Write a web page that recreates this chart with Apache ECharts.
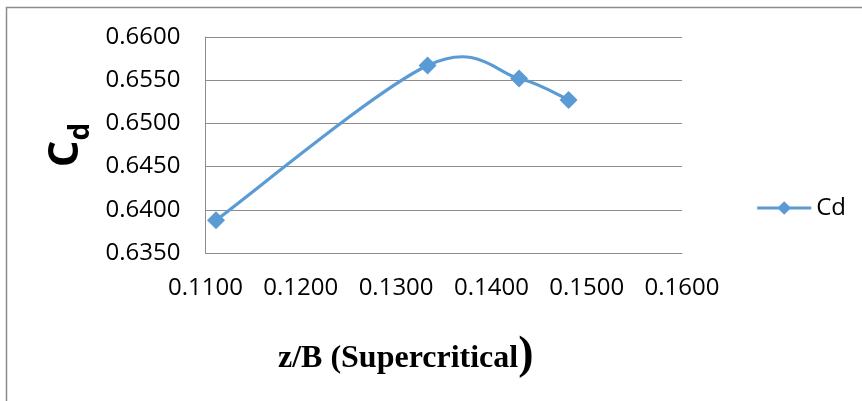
<!DOCTYPE html>
<html>
<head>
<meta charset="utf-8">
<script src="https://cdn.jsdelivr.net/npm/echarts@6/dist/echarts.min.js"></script>
<style>
  html, body { margin: 0; padding: 0; background: #fff; }
  #chart { width: 862px; height: 401px; }
</style>
</head>
<body>
<div id="chart"></div>
<script>
// z/B values and discharge coefficient
var zB = [0.1111, 0.1333, 0.1429, 0.1481];
var cd = [0.6388, 0.6567, 0.6552, 0.6527];
var xTicks = [0.11, 0.12, 0.13, 0.14, 0.15, 0.16];
var yTicks = [0.635, 0.64, 0.645, 0.65, 0.655, 0.66];

var chart = echarts.init(document.getElementById('chart'));

var points = zB.map(function (x, i) { return [x, cd[i]]; });
var blue = '#5b9bd5';

// spreadsheet-style smoothed curve: one bezier segment per point pair,
// control points taken from the neighbours, positions from the axes
function renderCurve(params, api) {
    var i = params.dataIndex;
    if (i >= points.length - 1) return null;
    var px = points.map(function (p) { return api.coord(p); });
    var p0 = px[Math.max(i - 1, 0)];
    var p1 = px[i];
    var p2 = px[i + 1];
    var p3 = px[Math.min(i + 2, px.length - 1)];
    return {
        type: 'bezierCurve',
        shape: {
            x1: p1[0], y1: p1[1],
            x2: p2[0], y2: p2[1],
            cpx1: p1[0] + (p2[0] - p0[0]) / 6,
            cpy1: p1[1] + (p2[1] - p0[1]) / 6,
            cpx2: p2[0] - (p3[0] - p1[0]) / 6,
            cpy2: p2[1] - (p3[1] - p1[1]) / 6
        },
        style: { stroke: blue, lineWidth: 3.2, fill: null, lineCap: 'round' }
    };
}

var option = {
    animation: false,
    backgroundColor: '#fff',
    graphic: [
        {
            type: 'polyline',
            silent: true,
            shape: { points: [[6.5, 410], [6.5, 7.5], [870, 7.5]] },
            style: { stroke: '#8c8c8c', lineWidth: 1.5, fill: null }
        }
    ],
    grid: {
        left: 205.5,
        right: 180,
        top: 37,
        bottom: 148
    },
    legend: {
        data: ['Cd'],
        right: 11,
        top: 191,
        orient: 'vertical',
        itemWidth: 54,
        itemHeight: 17,
        itemGap: 6,
        lineStyle: { opacity: 1, width: 3.2, color: blue },
        textStyle: { fontFamily: 'Open Sans', fontSize: 24, color: '#000' }
    },
    xAxis: {
        type: 'value',
        min: xTicks[0],
        max: xTicks[xTicks.length - 1],
        interval: 0.01,
        name: '{t|z/B (Supercritical}{p|)}',
        nameLocation: 'middle',
        nameGap: 80,
        nameTextStyle: {
            padding: [0, 76, 0, 0],
            rich: {
                t: { fontFamily: 'Liberation Serif', fontWeight: 'bold', fontSize: 32, color: '#000' },
                p: { fontFamily: 'Liberation Serif', fontWeight: 'bold', fontSize: 46, color: '#000', padding: [0, 0, 6, 0] }
            }
        },
        axisLine: { show: true, lineStyle: { color: '#8c8c8c', width: 1 } },
        axisTick: { show: false },
        splitLine: { show: false },
        axisLabel: {
            margin: 23,
            fontFamily: 'Open Sans',
            fontSize: 24,
            color: '#000',
            formatter: function (v) { return v.toFixed(4); }
        }
    },
    yAxis: {
        type: 'value',
        min: yTicks[0],
        max: yTicks[yTicks.length - 1],
        interval: 0.005,
        name: '{c|C}{d|d}',
        nameLocation: 'middle',
        nameGap: 107,
        nameRotate: 90,
        nameTextStyle: {
            rich: {
                c: { fontFamily: 'Open Sans', fontWeight: 'bold', fontSize: 42, color: '#000' },
                d: { fontFamily: 'Open Sans', fontWeight: 'bold', fontSize: 28, color: '#000', padding: [30, 0, 0, 0] }
            }
        },
        axisLine: { show: true, lineStyle: { color: '#8c8c8c', width: 1 } },
        axisTick: { show: false },
        splitLine: { show: true, lineStyle: { color: '#8c8c8c', width: 1 } },
        axisLabel: {
            margin: 25,
            fontFamily: 'Open Sans',
            fontSize: 24,
            color: '#000',
            formatter: function (v) { return v.toFixed(4); }
        }
    },
    series: [
        {
            name: 'curve',
            type: 'custom',
            data: points,
            encode: { x: 0, y: 1 },
            renderItem: renderCurve,
            z: 1
        },
        {
            name: 'Cd',
            type: 'line',
            data: points,
            symbol: 'diamond',
            symbolSize: 18,
            itemStyle: { color: blue },
            lineStyle: { color: blue, width: 3, opacity: 0 },
            z: 2
        }
    ]
};

chart.setOption(option);
window.addEventListener('resize', function () {
    chart.resize();
});
</script>
</body>
</html>
